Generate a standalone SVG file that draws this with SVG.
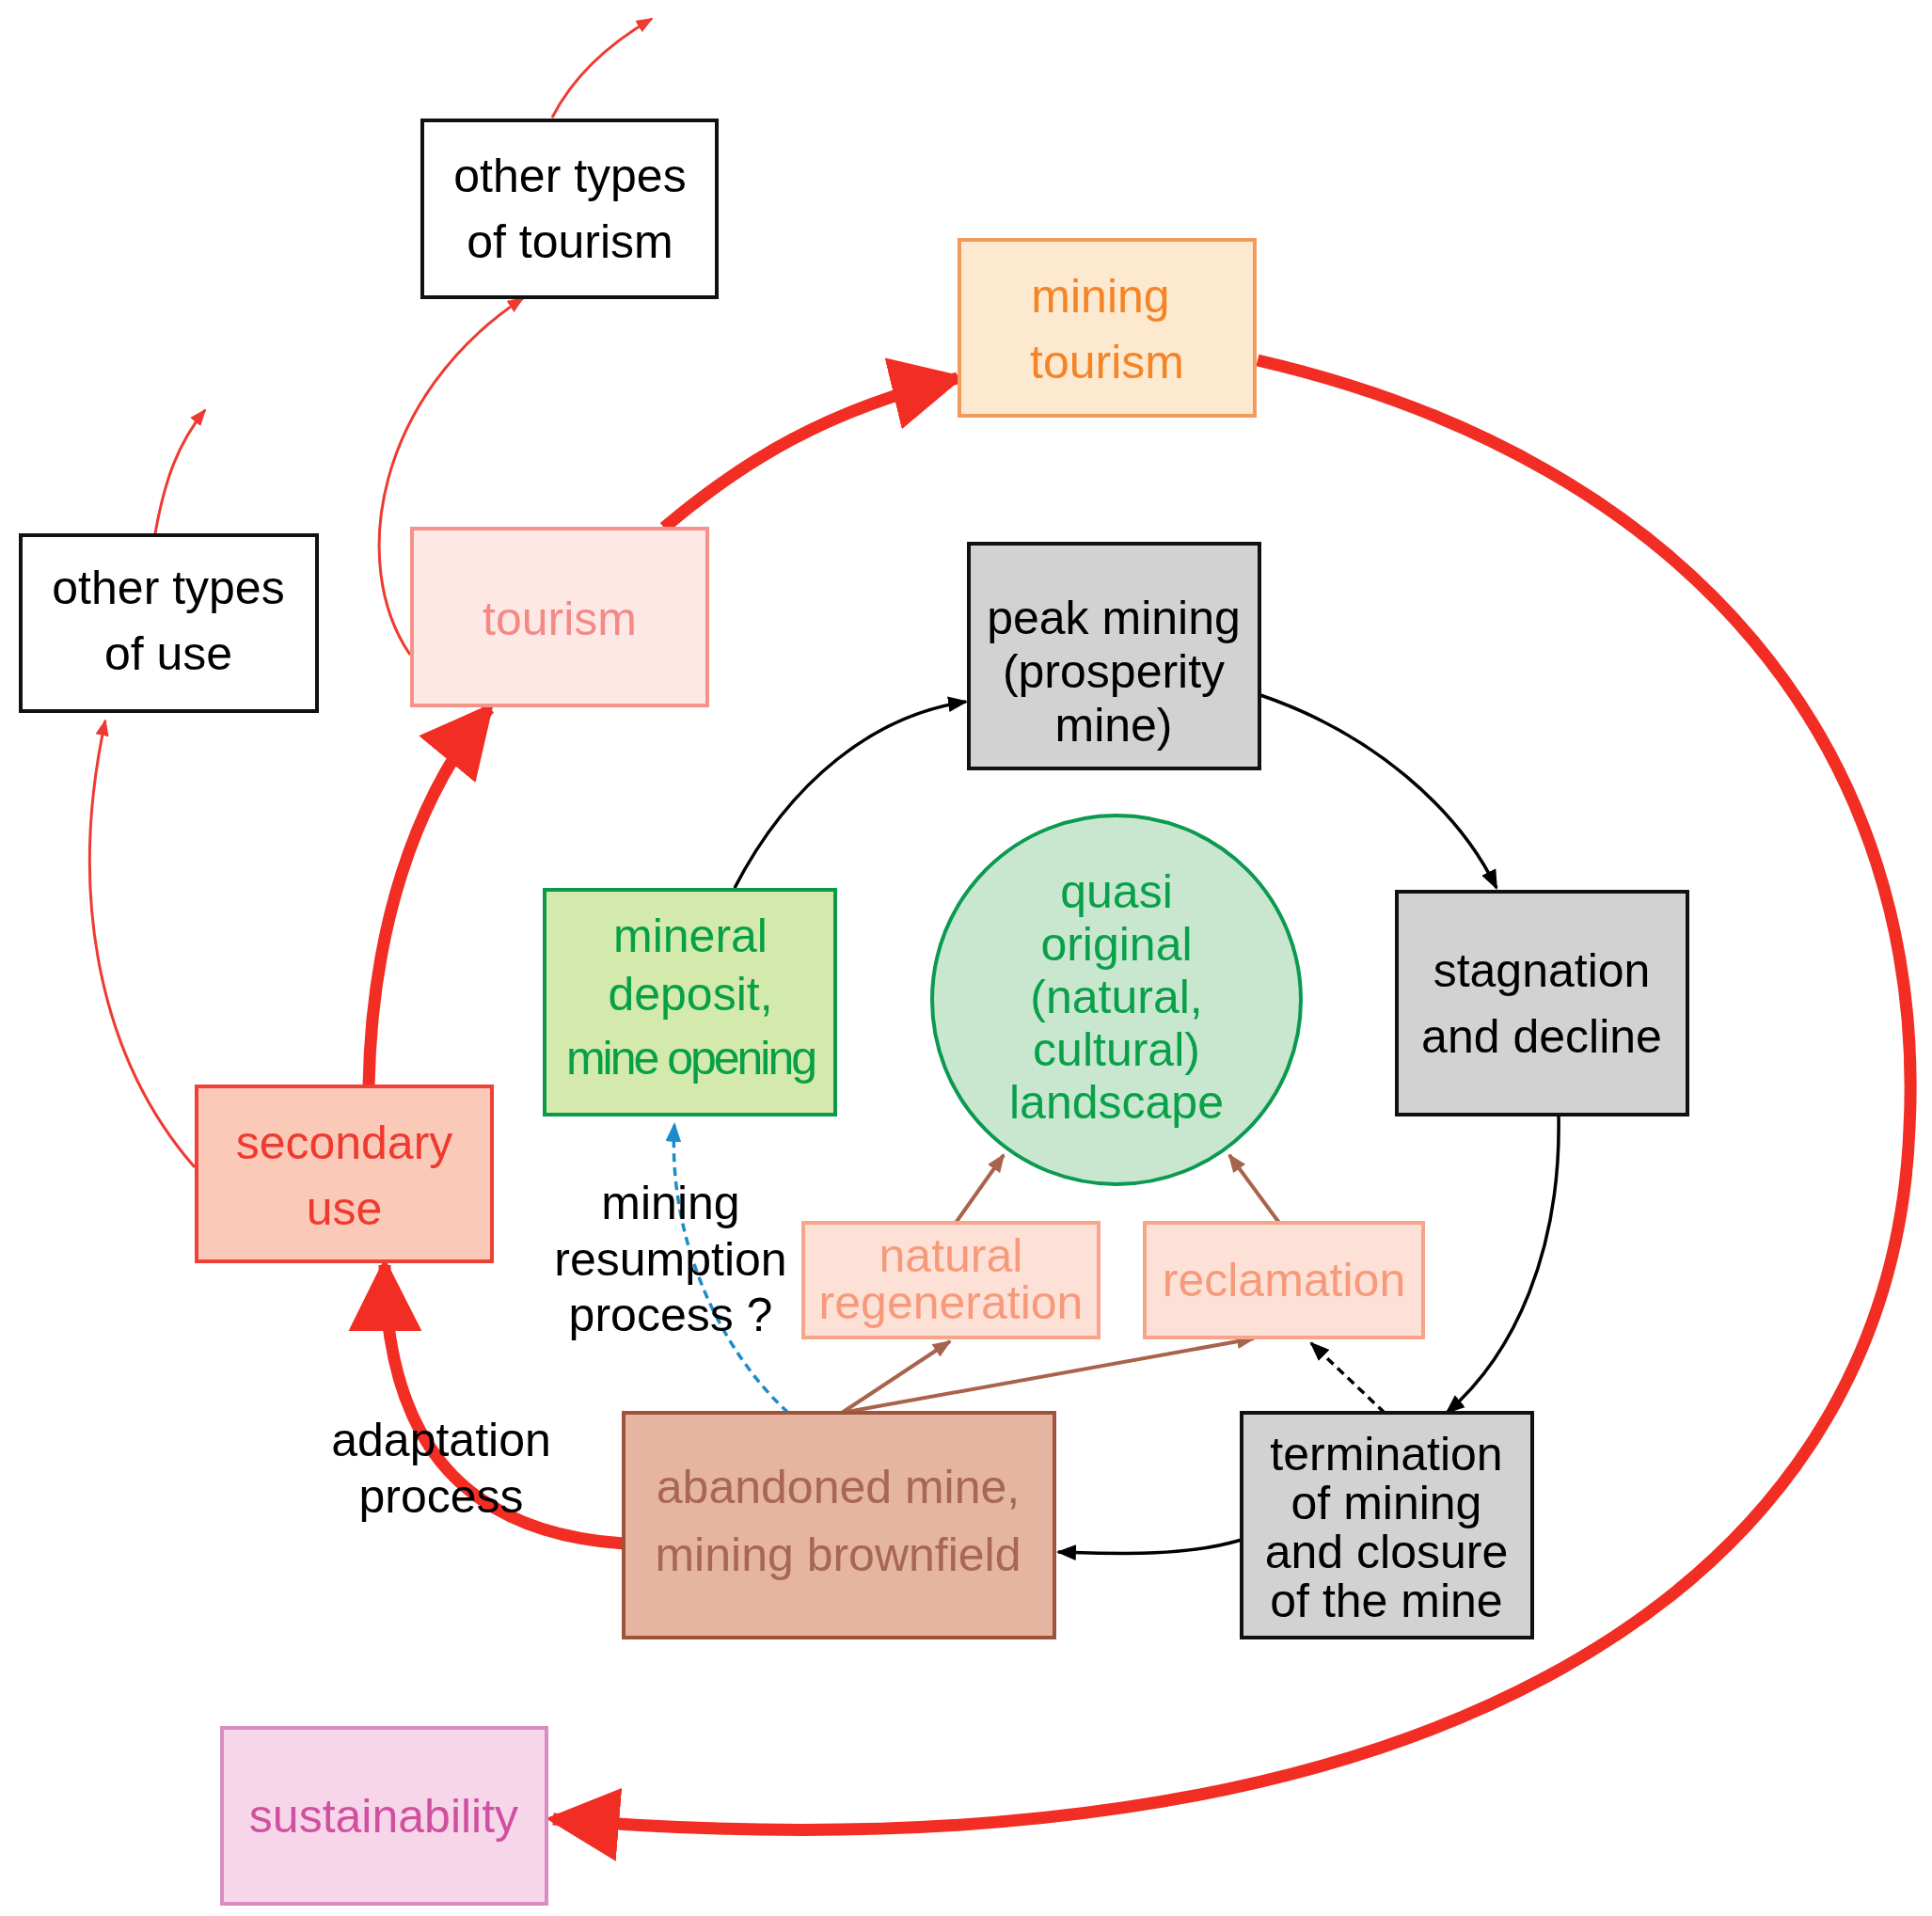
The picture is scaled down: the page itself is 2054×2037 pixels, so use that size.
<svg xmlns="http://www.w3.org/2000/svg" width="2054" height="2037" viewBox="0 0 2054 2037">
<defs>
<style>
text{font-family:"Liberation Sans",Arial,sans-serif;font-size:50px;text-anchor:middle}
.b{stroke-width:4}
.thick{fill:none;stroke:#f12d24;stroke-width:13}
.thin{fill:none;stroke:#ee3b31;stroke-width:3}
.blk{fill:none;stroke:#000;stroke-width:3.5}
.brn{fill:none;stroke:#a8634c;stroke-width:4}
</style>
<marker id="big" viewBox="0 0 10 10" refX="9" refY="5" markerWidth="6" markerHeight="6" orient="auto" markerUnits="strokeWidth"><path d="M0,0L10,5L0,10z" fill="#f12d24"/></marker>
<marker id="rs" viewBox="0 0 10 10" refX="9" refY="5" markerWidth="6" markerHeight="6" orient="auto" markerUnits="strokeWidth"><path d="M0,1L10,5L0,9z" fill="#ee3b31"/></marker>
<marker id="bk" viewBox="0 0 10 10" refX="9" refY="5" markerWidth="6" markerHeight="6" orient="auto" markerUnits="strokeWidth"><path d="M0,1L10,5L0,9z" fill="#000"/></marker>
<marker id="br" viewBox="0 0 10 10" refX="9" refY="5" markerWidth="5" markerHeight="5" orient="auto" markerUnits="strokeWidth"><path d="M0,1L10,5L0,9z" fill="#a8634c"/></marker>
<marker id="bl" viewBox="0 0 10 10" refX="9" refY="5" markerWidth="6" markerHeight="6" orient="auto" markerUnits="strokeWidth"><path d="M0,1L10,5L0,9z" fill="#1a8ccc"/></marker>
</defs>
<rect width="2054" height="2037" fill="#fff"/>
<g id="connectors">
<path class="thick" d="M663,1641 C500,1630 410,1540 409,1345" marker-end="url(#big)"/>
<path class="thick" d="M392,1155 C395,990 440,850 520,753" marker-end="url(#big)"/>
<path class="thick" d="M706,561 C790,490 880,435 1018,402" marker-end="url(#big)"/>
<path class="thick" d="M1337,383 C1800,490 2050,800 2030,1200 C2010,1700 1500,2010 588,1934" marker-end="url(#big)"/>
<path class="thin" d="M436,696 C370,600 400,420 556,317" marker-end="url(#rs)"/>
<path class="thin" d="M587,125 C610,80 650,45 693,20" marker-end="url(#rs)"/>
<path class="thin" d="M207,1241 C110,1130 70,960 112,766" marker-end="url(#rs)"/>
<path class="thin" d="M165,567 C175,510 190,470 218,436" marker-end="url(#rs)"/>
<path class="blk" d="M781,944 C840,830 930,760 1027,746" marker-end="url(#bk)"/>
<path class="blk" d="M1340,739 C1460,780 1550,860 1591,944" marker-end="url(#bk)"/>
<path class="blk" d="M1657,1185 C1660,1330 1610,1440 1538,1502" marker-end="url(#bk)"/>
<path class="blk" d="M1320,1637 C1260,1655 1190,1652 1125,1650" marker-end="url(#bk)"/>
<path class="blk" d="M1472,1502 L1394,1428" stroke-dasharray="9,6" marker-end="url(#bk)"/>
<path class="brn" d="M895,1502 L1010,1426" marker-end="url(#br)"/>
<path class="brn" d="M895,1502 L1333,1423" marker-end="url(#br)"/>
<path class="brn" d="M1016,1300 L1067,1228" marker-end="url(#br)"/>
<path class="brn" d="M1360,1300 L1307,1228" marker-end="url(#br)"/>
<path d="M838,1502 C760,1430 710,1310 717,1195" fill="none" stroke="#1a8ccc" stroke-width="3.5" stroke-dasharray="9,6" marker-end="url(#bl)"/>
</g>
<g id="other-tourism"><rect class="b" x="449" y="128" width="313" height="188" fill="#fff" stroke="#111"/><text x="606" y="204">other types</text><text x="606" y="274">of tourism</text></g>
<g id="mining-tourism"><rect class="b" x="1020" y="255" width="314" height="187" fill="#fde9cf" stroke="#f59a5c"/><text x="1170" y="332" fill="#f58426">mining</text><text x="1177" y="402" fill="#f58426">tourism</text></g>
<g id="other-use"><rect class="b" x="22" y="569" width="315" height="187" fill="#fff" stroke="#111"/><text x="179" y="642">other types</text><text x="179" y="712">of use</text></g>
<g id="tourism"><rect class="b" x="438" y="562" width="314" height="188" fill="#fee8e6" stroke="#f4938a"/><text x="595" y="675" fill="#f38a86">tourism</text></g>
<g id="peak"><rect class="b" x="1030" y="578" width="309" height="239" fill="#d3d2d3" stroke="#111"/><text x="1184" y="674">peak mining</text><text x="1184" y="731">(prosperity</text><text x="1184" y="788">mine)</text></g>
<g id="mineral"><rect class="b" x="579" y="946" width="309" height="239" fill="#d4eaad" stroke="#0a9a4a"/><text x="734" y="1012" fill="#07a047">mineral</text><text x="734" y="1074" fill="#07a047">deposit,</text><text x="734" y="1142" fill="#07a047" letter-spacing="-3">mine opening</text></g>
<g id="landscape"><circle cx="1187" cy="1063" r="196" fill="#c9e7cf" stroke="#0a9a50" stroke-width="4"/><text x="1187" y="965" fill="#09a04a">quasi</text><text x="1187" y="1021" fill="#09a04a">original</text><text x="1187" y="1077" fill="#09a04a">(natural,</text><text x="1187" y="1133" fill="#09a04a">cultural)</text><text x="1187" y="1189" fill="#09a04a">landscape</text></g>
<g id="stagnation"><rect class="b" x="1485" y="948" width="309" height="237" fill="#d3d2d3" stroke="#111"/><text x="1639" y="1049">stagnation</text><text x="1639" y="1119">and decline</text></g>
<g id="secondary"><rect class="b" x="209" y="1155" width="314" height="186" fill="#fbc9b8" stroke="#ee4037"/><text x="366" y="1232" fill="#ee3a2f">secondary</text><text x="366" y="1302" fill="#ee3a2f">use</text></g>
<g id="regeneration"><rect class="b" x="854" y="1300" width="314" height="122" fill="#fde1d6" stroke="#f7a58a"/><text x="1011" y="1352" fill="#f79a7c" font-size="48">natural</text><text x="1011" y="1402" fill="#f79a7c" font-size="48">regeneration</text></g>
<g id="reclamation"><rect class="b" x="1217" y="1300" width="296" height="122" fill="#fde1d6" stroke="#f7a58a"/><text x="1365" y="1378" fill="#f79a7c">reclamation</text></g>
<g id="abandoned"><rect class="b" x="663" y="1502" width="458" height="239" fill="#e5b5a2" stroke="#a0533b"/><text x="891" y="1598" fill="#a86655">abandoned mine,</text><text x="891" y="1670" fill="#a86655">mining brownfield</text></g>
<g id="termination"><rect class="b" x="1320" y="1502" width="309" height="239" fill="#d3d2d3" stroke="#111"/><text x="1474" y="1563">termination</text><text x="1474" y="1615">of mining</text><text x="1474" y="1667">and closure</text><text x="1474" y="1719">of the mine</text></g>
<g id="sustainability"><rect class="b" x="236" y="1837" width="345" height="187" fill="#f7d6ea" stroke="#d98cc0"/><text x="408" y="1948" fill="#d0509f">sustainability</text></g>
<g id="labels"><text x="713" y="1296" font-size="48">mining</text><text x="713" y="1356" font-size="48">resumption</text><text x="713" y="1415" font-size="48">process ?</text><text x="469" y="1548">adaptation</text><text x="469" y="1608">process</text></g>
</svg>
